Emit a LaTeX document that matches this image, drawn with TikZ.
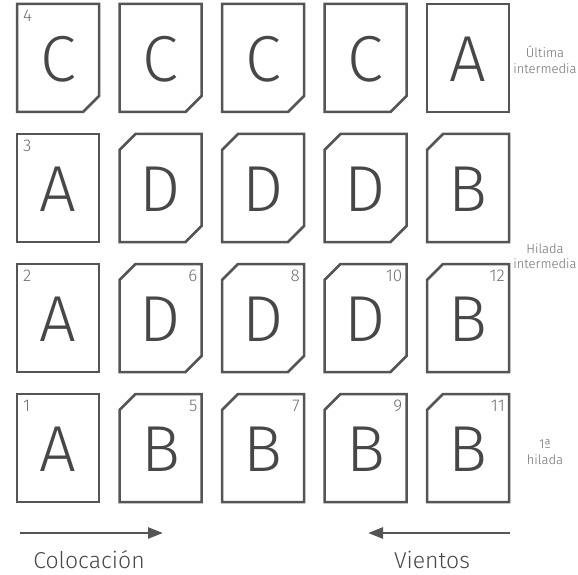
\documentclass[tikz,border=0pt]{standalone}
\usepackage{fontspec}
\setmainfont{Fira Sans Light}
\usepackage{tikz}
\usetikzlibrary{arrows.meta, positioning, calc}
\definecolor{tileline}{HTML}{555555}
\definecolor{tiletext}{HTML}{474747}
\definecolor{smalltext}{HTML}{6E6E6E}

\tikzset{
    tile/.style={draw=tileline, line width=2.5pt, line join=miter},
    letter/.style={font=\fontsize{65}{65}\selectfont, text=tiletext, inner sep=0pt},
    num/.style={font=\fontsize{17}{17}\selectfont, text=smalltext, inner sep=0pt},
    side/.style={font=\fontsize{13}{15.5}\selectfont, text=smalltext, align=center, inner sep=0pt},
    caption/.style={font=\fontsize{23}{25}\selectfont, text=tiletext, inner sep=0pt},
    flow/.style={draw=tileline, line width=2.5pt, -{Triangle[length=15pt, width=11pt]}}
}

% tile outline: 0 plain, 1 top-left cut, 2 bottom-right cut, 3 both
\newcommand{\drawtile}[3]{%
    \ifcase#3
        \draw[tile] (#1,#2) rectangle (#1+82,#2+108);
    \or
        \draw[tile] (#1,#2+16) -- (#1+16,#2) -- (#1+82,#2) -- (#1+82,#2+108) -- (#1,#2+108) -- cycle;
    \or
        \draw[tile] (#1,#2) -- (#1+82,#2) -- (#1+82,#2+92) -- (#1+66,#2+108) -- (#1,#2+108) -- cycle;
    \or
        \draw[tile] (#1,#2+16) -- (#1+16,#2) -- (#1+82,#2) -- (#1+82,#2+92) -- (#1+66,#2+108) -- (#1,#2+108) -- cycle;
    \fi}

\begin{document}
\begin{tikzpicture}[x=1pt, y=-1pt]
    \useasboundingbox (0,0) rectangle (578,575);

    % Tiles
    \foreach \row/\items in {0/{C/2,C/2,C/2,C/2,A/0},
                             1/{A/0,D/3,D/3,D/3,B/1},
                             2/{A/0,D/3,D/3,D/3,B/1},
                             3/{A/0,B/1,B/1,B/1,B/1}} {
        \foreach \ltr/\cut [count=\col from 0] in \items {
            \pgfmathsetmacro{\x}{17+102.5*\col}
            \pgfmathsetmacro{\y}{4+130*\row}
            \drawtile{\x}{\y}{\cut}
            \node[letter] (t\row\col) at (\x+41,\y+55) {\ltr};
        }
    }

    % Laying order
    \foreach \row/\num in {0/4,1/3,2/2,3/1}
        \node[num, anchor=north west] (n\num) at (23,4+130*\row+6) {\num};
    \foreach \num [count=\col] in {6,8,10,12}
        \node[num, anchor=north east] (n\num) at (17+102.5*\col+78,270) {\num};
    \foreach \num [count=\col] in {5,7,9,11}
        \node[num, anchor=north east] (n\num) at (17+102.5*\col+78,400) {\num};

    % Course labels
    \node[side] (ultima) at (545,60) {Última\\intermedia};
    \node[side] (hilada) at (545,256) {Hilada\\intermedia};
    \node[side] (primera) at (545,452) {1ª\\hilada};

    % Directions
    \coordinate (col-s) at (20,533);
    \coordinate (col-e) at (163,533);
    \coordinate (vie-s) at (510,533);
    \coordinate (vie-e) at (368,533);
    \draw[flow] (col-s) -- (col-e);
    \draw[flow] (vie-s) -- (vie-e);
    \node[caption] (colocacion) at (89,560) {Colocación};
    \node[caption] (vientos) at (432,560) {Vientos};
\end{tikzpicture}
\end{document}
